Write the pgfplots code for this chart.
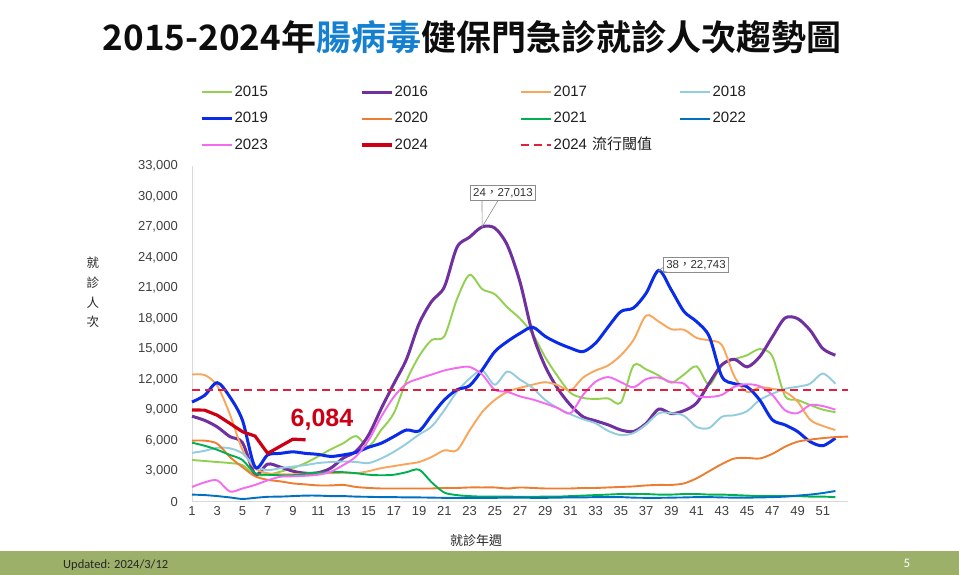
\documentclass[border=0pt]{standalone}
\usepackage{fontspec}
\setmainfont{Liberation Sans}
\newfontfamily\cjk{Noto Sans CJK TC}
\newfontfamily\cjkb{Noto Sans CJK TC Bold}
\newfontfamily\carlito{Carlito}
\usepackage{pgfplots}
\pgfplotsset{compat=1.18}

\definecolor{c2015}{HTML}{92D050}
\definecolor{c2016}{HTML}{7030A0}
\definecolor{c2017}{HTML}{F9A65A}
\definecolor{c2018}{HTML}{93CDDD}
\definecolor{c2019}{HTML}{0A2BE8}
\definecolor{c2020}{HTML}{ED7D31}
\definecolor{c2021}{HTML}{00B050}
\definecolor{c2022}{HTML}{0070C0}
\definecolor{c2023}{HTML}{F36CF0}
\definecolor{c2024}{HTML}{CC0014}
\definecolor{thresh}{HTML}{E0203C}
\definecolor{titleblue}{HTML}{1580D0}
\definecolor{band}{HTML}{9CB06A}
\definecolor{axisgray}{HTML}{D9D9D9}
\definecolor{tickgray}{HTML}{404040}
\definecolor{calloutgray}{HTML}{8C8C8C}

\begin{document}
\begin{tikzpicture}
\useasboundingbox (0,0) rectangle (959bp,575bp);
\fill[white] (0,0) rectangle (959bp,575bp);
\fill[band] (0,0) rectangle (959bp,24bp);
\node[anchor=west, inner sep=0pt, font=\carlito\fontsize{12.5bp}{14bp}\selectfont, text=black!85] at (63bp,10bp) {Updated: 2024/3/12};
\node[inner sep=0pt, font=\carlito\fontsize{13bp}{15bp}\selectfont, text=white] at (907bp,12bp) {5};
\node[inner sep=0pt, font=\cjkb\fontsize{35bp}{40bp}\selectfont, text=black!95] at (472bp,538bp)
  {2015-2024年{\color{titleblue}腸病毒}健保門急診就診人次趨勢圖};

\begin{axis}[
  at={(192bp,73.3bp)}, anchor=south west,
  scale only axis, width=656bp, height=335.7bp,
  xmin=1, xmax=53, ymin=0, ymax=33000,
  clip=false,
  axis x line=bottom, axis y line=left,
  axis line style={draw=axisgray, line width=0.8bp, -},
  major tick length=0pt,
  xtick={1,3,...,51},
  ytick={0,3000,...,33000},
  scaled y ticks=false,
  /pgf/number format/assume math mode=true,
  /pgf/number format/fixed,
  /pgf/number format/1000 sep={,},
  yticklabel style={font=\fontsize{13bp}{15bp}\selectfont, text=tickgray, inner sep=0pt, anchor=east, xshift=-14bp},
  xticklabel style={font=\fontsize{13bp}{15bp}\selectfont, text=tickgray, inner sep=0pt, anchor=north, yshift=-5bp},
  ylabel={就\\診\\人\\次},
  ylabel style={font=\cjk\fontsize{12.5bp}{19.7bp}\selectfont, text=black!85, align=center, rotate=-90,
    at={(axis description cs:-0.151,0.623)}, anchor=center},
  xlabel={就診年週},
  xlabel style={font=\cjk\fontsize{13bp}{15bp}\selectfont, text=black!85,
    at={(axis description cs:0.433,-0.117)}, anchor=center},
  legend columns=4,
  legend cell align=left,
  legend image code/.code={\draw[#1] (0bp,0bp) -- (30bp,0bp);},
  legend style={at={(0.0122,1.241)}, anchor=north west, draw=none, fill=none,
    inner sep=0pt, outer sep=0pt, font=\fontsize{15bp}{17bp}\selectfont, text=black!88,
    row sep=12.5bp,
    /tikz/every odd column/.append style={column sep=1.5bp},
    nodes={inner sep=0pt, text width=125.5bp, text height=11bp, text depth=3bp, anchor=west}},
]

\addplot[c2015, line width=1.9bp, smooth] coordinates {
(1,4100) (2,4000) (3,3900) (4,3800) (5,3600) (6,2650) (7,2650) (8,2950) (9,3300) (10,3800)
(11,4450) (12,5150) (13,5750) (14,6450) (15,5450) (16,7050) (17,8700) (18,11900) (19,14300) (20,15900)
(21,16250) (22,19900) (23,22300) (24,20900) (25,20400) (26,19100) (27,18000) (28,16500) (29,14200) (30,12300)
(31,10700) (32,10200) (33,10100) (34,10150) (35,9750) (36,13400) (37,13000) (38,12400) (39,11700) (40,12500)
(41,13300) (42,11500) (43,13500) (44,14000) (45,14400) (46,15000) (47,14300) (48,10400) (49,10000) (50,9500)
(51,9050) (52,8800)};
\addlegendentry{2015}

\addplot[c2016, line width=3bp, smooth] coordinates {
(1,8400) (2,8000) (3,7350) (4,6400) (5,5800) (6,2700) (7,3700) (8,3400) (9,3000) (10,2800)
(11,2850) (12,3300) (13,4300) (14,4950) (15,6550) (16,9150) (17,11600) (18,14000) (19,17500) (20,19700)
(21,21100) (22,25000) (23,26000) (24,27013) (25,26900) (26,25200) (27,21600) (28,16500) (29,13300) (30,11100)
(31,9500) (32,8350) (33,7950) (34,7550) (35,7050) (36,6900) (37,7700) (38,9100) (39,8650) (40,8950)
(41,9700) (42,11650) (43,13450) (44,14000) (45,13250) (46,14250) (47,16200) (48,18050) (49,18000) (50,16850)
(51,15050) (52,14400)};
\addlegendentry{2016}

\addplot[c2017, line width=1.9bp, smooth] coordinates {
(1,12500) (2,12450) (3,11400) (4,8600) (5,5100) (6,3300) (7,2800) (8,2700) (9,2700) (10,2750)
(11,2800) (12,2800) (13,2850) (14,2800) (15,3000) (16,3300) (17,3500) (18,3700) (19,3900) (20,4400)
(21,5050) (22,5050) (23,7000) (24,8800) (25,10000) (26,10800) (27,11200) (28,11500) (29,11750) (30,11450)
(31,10950) (32,12200) (33,12900) (34,13400) (35,14400) (36,15900) (37,18300) (38,17700) (39,16950) (40,16900)
(41,16100) (42,15850) (43,15400) (44,12300) (45,10800) (46,11250) (47,11100) (48,10800) (49,9850) (50,8050)
(51,7450) (52,7050)};
\addlegendentry{2017}

\addplot[c2018, line width=1.9bp, smooth] coordinates {
(1,4800) (2,5000) (3,5300) (4,5250) (5,4750) (6,3500) (7,3100) (8,3300) (9,3450) (10,3600)
(11,3800) (12,3900) (13,3950) (14,3900) (15,3800) (16,4250) (17,4900) (18,5700) (19,6600) (20,7400)
(21,9000) (22,10800) (23,12100) (24,12900) (25,11500) (26,12800) (27,12000) (28,11200) (29,10000) (30,9200)
(31,8600) (32,8100) (33,7700) (34,6950) (35,6550) (36,6750) (37,7600) (38,8700) (39,8700) (40,8450)
(41,7350) (42,7250) (43,8350) (44,8500) (45,8900) (46,10000) (47,10600) (48,11100) (49,11300) (50,11600)
(51,12600) (52,11600)};
\addlegendentry{2018}

\addplot[c2019, line width=3bp, smooth] coordinates {
(1,9800) (2,10450) (3,11700) (4,10300) (5,8000) (6,3400) (7,4600) (8,4750) (9,4900) (10,4750)
(11,4650) (12,4450) (13,4600) (14,4850) (15,5350) (16,5750) (17,6400) (18,7050) (19,6950) (20,8500)
(21,10000) (22,11000) (23,11400) (24,12950) (25,14750) (26,15750) (27,16550) (28,17150) (29,16250) (30,15600)
(31,15100) (32,14750) (33,15600) (34,17200) (35,18700) (36,19050) (37,20500) (38,22743) (39,20800) (40,18700)
(41,17700) (42,16250) (43,12300) (44,11600) (45,11300) (46,10000) (47,8050) (48,7550) (49,6900) (50,5900)
(51,5500) (52,6250)};
\addlegendentry{2019}

\addplot[c2020, line width=1.9bp, smooth] coordinates {
(1,6000) (2,6000) (3,5700) (4,4400) (5,3400) (6,2500) (7,2150) (8,2000) (9,1800) (10,1700)
(11,1600) (12,1600) (13,1650) (14,1450) (15,1350) (16,1300) (17,1300) (18,1300) (19,1300) (20,1300)
(21,1350) (22,1350) (23,1400) (24,1400) (25,1400) (26,1300) (27,1400) (28,1350) (29,1300) (30,1300)
(31,1300) (32,1350) (33,1350) (34,1400) (35,1450) (36,1500) (37,1600) (38,1650) (39,1650) (40,1800)
(41,2300) (42,3000) (43,3700) (44,4250) (45,4300) (46,4250) (47,4700) (48,5400) (49,5900) (50,6100)
(51,6250) (52,6350) (53,6400)};
\addlegendentry{2020}

\addplot[c2021, line width=1.9bp, smooth] coordinates {
(1,5800) (2,5500) (3,5100) (4,4600) (5,4100) (6,2800) (7,2650) (8,2600) (9,2600) (10,2750)
(11,2850) (12,2900) (13,2900) (14,2800) (15,2650) (16,2600) (17,2650) (18,2900) (19,3150) (20,1900)
(21,900) (22,650) (23,550) (24,500) (25,500) (26,500) (27,480) (28,480) (29,500) (30,500)
(31,550) (32,600) (33,650) (34,700) (35,750) (36,750) (37,750) (38,700) (39,700) (40,750)
(41,750) (42,700) (43,700) (44,650) (45,600) (46,550) (47,550) (48,550) (49,550) (50,500)
(51,500) (52,450)};
\addlegendentry{2021}

\addplot[c2022, line width=1.9bp, smooth] coordinates {
(1,700) (2,650) (3,550) (4,420) (5,270) (6,380) (7,480) (8,500) (9,550) (10,600)
(11,600) (12,550) (13,550) (14,500) (15,480) (16,450) (17,450) (18,420) (19,420) (20,400)
(21,380) (22,380) (23,380) (24,380) (25,380) (26,400) (27,400) (28,380) (29,380) (30,400)
(31,420) (32,420) (33,450) (34,450) (35,450) (36,400) (37,380) (38,380) (39,400) (40,420)
(41,450) (42,450) (43,420) (44,400) (45,400) (46,420) (47,450) (48,500) (49,600) (50,700)
(51,850) (52,1050)};
\addlegendentry{2022}

\addplot[c2023, line width=1.9bp, smooth] coordinates {
(1,1450) (2,1900) (3,2100) (4,1000) (5,1300) (6,1650) (7,2100) (8,2450) (9,2500) (10,2550)
(11,2650) (12,2950) (13,3600) (14,4450) (15,6050) (16,8350) (17,10300) (18,11600) (19,12100) (20,12500)
(21,12900) (22,13150) (23,13250) (24,12500) (25,11000) (26,10800) (27,10350) (28,10050) (29,9650) (30,9200)
(31,8700) (32,10500) (33,11800) (34,12250) (35,11750) (36,11250) (37,12050) (38,12200) (39,11750) (40,11600)
(41,10400) (42,10300) (43,10500) (44,11300) (45,11550) (46,11350) (47,10500) (48,9000) (49,8700) (50,9500)
(51,9400) (52,9050)};
\addlegendentry{2023}

\addplot[c2024, line width=3.2bp] coordinates {
(1,9014) (2,9000) (3,8500) (4,7700) (5,6880) (6,6450) (7,4750) (8,5450) (9,6150) (10,6084)};
\addlegendentry{2024}

\addplot[thresh, line width=2bp, dash pattern=on 8bp off 5bp] coordinates {(1,11000) (53,11000)};
\addlegendentry{2024 {\cjk 流行閾值}}

% callouts
\node[draw=calloutgray, fill=white, line width=0.6bp, inner xsep=3bp, inner ysep=2.5bp,
  font=\fontsize{11.5bp}{13bp}\selectfont, text=black!80] (c1) at (axis cs:25.65,30345) {24{\cjk ，}27,013};
\draw[calloutgray, line width=0.6bp] ([xshift=-21bp]c1.south) -- (axis cs:24,27013) -- ([xshift=-5bp]c1.south);
\node[draw=calloutgray, fill=white, line width=0.6bp, inner xsep=3bp, inner ysep=2.5bp,
  font=\fontsize{11.5bp}{13bp}\selectfont, text=black!80] (c2) at (axis cs:40.95,23268) {38{\cjk ，}22,743};
\draw[calloutgray, line width=0.6bp] ([yshift=5bp]c2.south west) -- (axis cs:38,22743) -- ([xshift=6bp]c2.south west);

\node[font=\bfseries\fontsize{25bp}{28bp}\selectfont, text=c2024, inner sep=0pt] at (axis cs:11.3,8100) {6,084};
\end{axis}
\end{tikzpicture}
\end{document}
